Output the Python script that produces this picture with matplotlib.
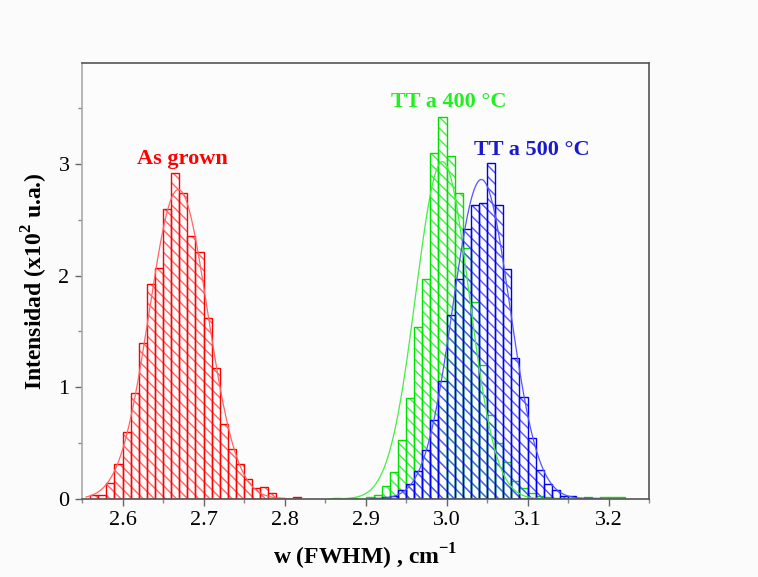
import numpy as np
import matplotlib
matplotlib.use("Agg")
from matplotlib import pyplot as plt
from matplotlib.ticker import MultipleLocator

plt.rcParams['font.family'] = ['Liberation Serif', 'DejaVu Serif']
plt.rcParams['mathtext.fontset'] = 'custom'
plt.rcParams['mathtext.rm'] = 'Liberation Serif'
plt.rcParams['mathtext.bf'] = 'Liberation Serif:bold'
plt.rcParams['hatch.linewidth'] = 1.0

BIN_W = 0.01

# histogram heights (x10^2 u.a.), one value per 0.01 bin, starting at *_start
red_start = 2.56
red_counts = [0.035, 0.04, 0.145, 0.31, 0.60, 0.95, 1.40, 1.92, 2.07, 2.60,
              2.92, 2.74, 2.35, 2.21, 1.62, 1.17, 0.67, 0.45, 0.31, 0.18,
              0.10, 0.11, 0.055, 0.01, 0.0, 0.02]

green_start = 2.86
green_counts = [0.012, 0.0, 0.008, 0.0, 0.016, 0.04, 0.12, 0.24, 0.525, 0.90,
                1.54, 1.97, 3.10, 3.42, 3.07, 2.74, 2.25, 1.76, 1.20, 0.75,
                0.50, 0.33, 0.16, 0.10, 0.05, 0.03, 0.02, 0.01, 0.01, 0.0,
                0.01, 0.015, 0.0, 0.015, 0.015, 0.015]

blue_start = 2.91
blue_counts = [0.01, 0.016, 0.025, 0.076, 0.136, 0.25, 0.44, 0.71, 1.06, 1.65,
               1.97, 2.42, 2.63, 2.65, 3.01, 2.63, 2.06, 1.26, 0.91, 0.55,
               0.26, 0.136, 0.076, 0.03, 0.03, 0.01, 0.005, 0.005]

# gaussian fit parameters: (center, sigma, peak)
red_fit = (2.669, 0.036, 2.77)
green_fit = (2.995, 0.033, 3.02)
blue_fit = (3.043, 0.035, 2.86)

series = [
    ("As grown", red_start, red_counts, red_fit, '#ff0000', '#ff6666', '#ff0000', (2.674, 3.04)),
    ("TT a 400 °C", green_start, green_counts, green_fit, '#00e000', '#44ee44', '#22ee22', (3.003, 3.55)),
    ("TT a 500 °C", blue_start, blue_counts, blue_fit, '#0000ee', '#5555ff', '#1a1acc', (3.105, 3.12)),
]

fig = plt.figure(figsize=(7.58, 5.77), dpi=100, facecolor='#fbfbfb')
ax = fig.add_axes([0.1082, 0.1352, 0.7480, 0.7551])
ax.set_facecolor('#fcfcfc')

for label, start, counts, fit, edge, hatch_c, txt_c, txt_pos in series:
    counts = np.array(counts)
    lefts = np.round(start + BIN_W * np.arange(len(counts)), 3)
    ax.bar(lefts, counts, width=BIN_W, align='edge', facecolor='none',
           edgecolor=hatch_c, linewidth=0, hatch='\\\\\\')
    ax.bar(lefts, counts, width=BIN_W, align='edge', facecolor='none',
           edgecolor=edge, linewidth=1.0)
    mu, sig, amp = fit
    xs = np.linspace(lefts[0] - 0.005, lefts[-1] + BIN_W, 300)
    ax.plot(xs, amp * np.exp(-0.5 * ((xs - mu) / sig) ** 2), color=hatch_c,
            linewidth=0.9)
    ax.text(txt_pos[0], txt_pos[1], label, color=txt_c, fontsize=16,
            fontweight='bold', ha='center', va='center')

ax.set_xlim(2.55, 3.25)
ax.set_ylim(0, 3.9)
ax.xaxis.set_major_locator(MultipleLocator(0.1))
ax.xaxis.set_minor_locator(MultipleLocator(0.05))
ax.yaxis.set_major_locator(MultipleLocator(1))
ax.yaxis.set_minor_locator(MultipleLocator(0.5))
ax.set_xticks(np.arange(2.6, 3.21, 0.1))
ax.set_xticklabels(['2.6', '2.7', '2.8', '2.9', '3.0', '3.1', '3.2'])
ax.set_yticks([0, 1, 2, 3])
ax.tick_params(which='major', direction='out', length=5, width=1,
               color='#666666', labelsize=16, pad=4)
ax.tick_params(which='minor', direction='out', length=3, width=1,
               color='#888888')
for side in ['top', 'right', 'bottom']:
    ax.spines[side].set_color('#555555')
    ax.spines[side].set_linewidth(1.2)
ax.spines['left'].set_color('#aaaaaa')
ax.spines['left'].set_linewidth(1.2)

ax.set_xlabel(r'w (FWHM) , cm$^{\mathbf{-1}}$', fontsize=17,
              fontweight='bold', labelpad=8)
ax.set_ylabel(r'Intensidad (x10$^{\mathbf{2}}$ u.a.)', fontsize=17,
              fontweight='bold', labelpad=6)

fig.savefig('out.png', dpi=100, facecolor=fig.get_facecolor())
